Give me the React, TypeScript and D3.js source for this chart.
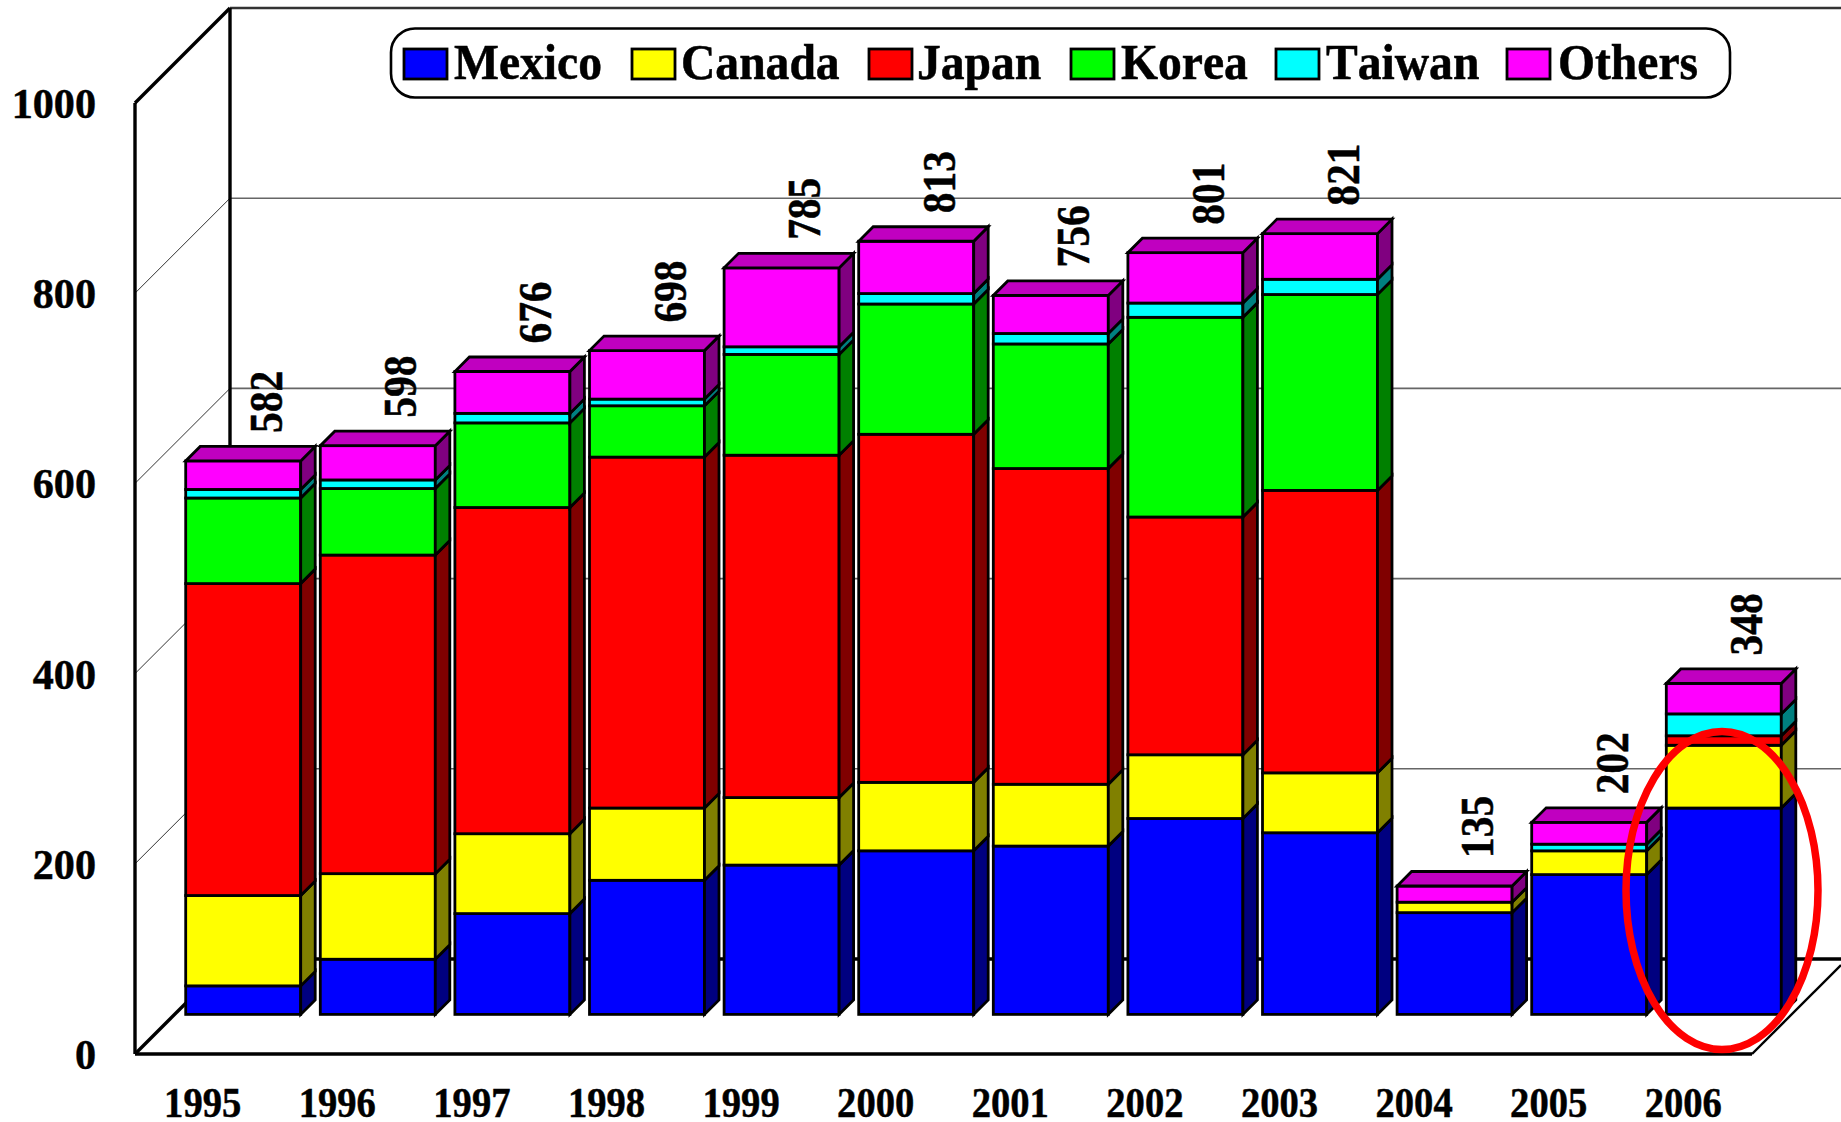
import React from "react";
import * as d3 from "d3";

const years = ["1995","1996","1997","1998","1999","2000","2001","2002","2003","2004","2005","2006"];
const mexico = [30,58,106,141,157,172,177,206,191,107,147,217];
const canada = [95,90,84,76,71,72,65,67,63,11,25,66];
const japan = [328,335,343,369,360,366,332,250,297,0,0,10];
const korea = [90,70,89,54,106,137,131,210,206,0,0,0];
const taiwan = [9,9,10,7,8,11,11,15,16,0,7,23];
const others = [30,36,44,51,83,55,40,53,48,17,23,32];
const totals = [582,598,676,698,785,813,756,801,821,135,202,348];
const yTicks = [0,200,400,600,800,1000];
const seriesNames = ["Mexico","Canada","Japan","Korea","Taiwan","Others"];
const seriesValues = [mexico,canada,japan,korea,taiwan,others];
const faceColors = ["#0000ff","#ffff00","#ff0000","#00ff00","#00ffff","#ff00ff"];
const sideColors = ["#000080","#808000","#800000","#008000","#008080","#800080"];
const topColor = "#c000c0";

const W = 1841, H = 1122;
const FONT = "'Liberation Serif', 'Times New Roman', serif";
const axisX = 135, floorY = 1054, topY = 103;
const wallDx = 95, wallDy = 95;
const barInset = 39.6;
const barDepth = 14.5;
const legendSwatchX = [404,632,869,1071,1276,1507];
const legendTextX = [454,681,917,1121,1326,1558];

const y = d3.scaleLinear().domain([0,1000]).range([floorY,topY]);
const band = d3.scaleBand<string>().domain(years).range([185.7-9.8, 185.7-9.8+134.6*12]).paddingInner(19.6/134.6).paddingOuter(19.6/134.6/2);

const stackGen = d3.stack<number>().keys(d3.range(6) as any).value((i: number, k: any) => seriesValues[k][i]);
const stacked = stackGen(d3.range(years.length));

const pts = (p: number[][]) => p.map(a => a.join(",")).join(" ");

export default function App() {
  const backX = axisX + wallDx;
  const rightFront = 1752;
  const heavy = { stroke: "#000", strokeWidth: 0.5 };
  return (
    <svg width={W} height={H} viewBox={`0 0 ${W} ${H}`} style={{position:"fixed",left:0,top:0,background:"#fff",fontKerning:"none"}} fontFamily={FONT} fontWeight="bold">
      {/* back wall top */}
      <line x1={backX} y1={y(1000)-wallDy} x2={W} y2={y(1000)-wallDy} stroke="#333" strokeWidth={2.6}/>
      {/* grid */}
      {yTicks.filter(t => t>0 && t<1000).map(t => (
        <g key={t}>
          <line x1={axisX} y1={y(t)} x2={backX} y2={y(t)-wallDy} stroke="#333" strokeWidth={1}/>
          <line x1={backX} y1={y(t)-wallDy} x2={W} y2={y(t)-wallDy} stroke="#666" strokeWidth={1.6}/>
        </g>
      ))}
      {/* frame */}
      <line x1={axisX} y1={y(0)} x2={axisX} y2={y(1000)} stroke="#000" strokeWidth={3.4}/>
      <line x1={backX} y1={y(0)-wallDy} x2={backX} y2={y(1000)-wallDy} stroke="#000" strokeWidth={3.4}/>
      <line x1={axisX} y1={y(1000)} x2={backX} y2={y(1000)-wallDy} stroke="#000" strokeWidth={3.4}/>
      <line x1={axisX} y1={y(0)} x2={backX} y2={y(0)-wallDy} stroke="#000" strokeWidth={3.4}/>
      <line x1={axisX} y1={y(0)} x2={rightFront} y2={y(0)} stroke="#000" strokeWidth={3.4}/>
      <line x1={backX} y1={y(0)-wallDy} x2={W} y2={y(0)-wallDy} stroke="#000" strokeWidth={3.4}/>
      <line x1={rightFront} y1={y(0)} x2={W} y2={y(0)-89} stroke="#000" strokeWidth={2.4}/>

      {/* bars */}
      {years.map((yr,i) => {
        const x0 = band(yr)!, x1 = x0 + band.bandwidth();
        const segs = stacked.map((s,k) => ({k, a:s[i][0], b:s[i][1]})).filter(d => d.b>d.a);
        const top = segs[segs.length-1];
        const yTop = y(top.b)-barInset;
        return (
          <g key={yr} stroke="#000" strokeWidth={2.8} strokeLinejoin="miter">
            {segs.map(d => {
              const ya = y(d.a)-barInset, yb = y(d.b)-barInset;
              return (
                <g key={d.k}>
                  <rect x={x0} y={yb} width={x1-x0} height={ya-yb} fill={faceColors[d.k]}/>
                  <polygon points={pts([[x1,ya],[x1,yb],[x1+barDepth,yb-barDepth],[x1+barDepth,ya-barDepth]])} fill={sideColors[d.k]}/>
                </g>
              );
            })}
            <polygon points={pts([[x0,yTop],[x1,yTop],[x1+barDepth,yTop-barDepth],[x0+barDepth,yTop-barDepth]])} fill={topColor}/>
          </g>
        );
      })}

      {/* total labels */}
      {years.map((yr,i) => {
        const lx = band(yr)! + 96, ly = y(totals[i]) - barInset - barDepth - 13.5;
        return <text key={yr} transform={`translate(${lx},${ly}) rotate(-90) scale(0.9,1)`} fontSize={46} fill="#000" {...heavy}>{totals[i]}</text>;
      })}

      {/* y labels */}
      {yTicks.map(t => <text key={t} transform={`translate(96,${y(t)+15}) scale(0.98,1)`} textAnchor="end" fontSize={43} fill="#000" {...heavy}>{t}</text>)}
      {/* x labels */}
      {years.map(yr => <text key={yr} transform={`translate(${band(yr)!+17},1117) scale(0.93,1)`} textAnchor="middle" fontSize={41.5} fill="#000" {...heavy}>{yr}</text>)}

      {/* legend */}
      <rect x={391} y={28.5} width={1339} height={69} rx={24} ry={24} fill="#fff" stroke="#000" strokeWidth={2.6}/>
      {seriesNames.map((n,i) => (
        <g key={n}>
          <rect x={legendSwatchX[i]} y={49} width={43} height={30} fill={faceColors[i]} stroke="#000" strokeWidth={2.8}/>
          <text transform={`translate(${legendTextX[i]},79) scale(0.952,1)`} fontSize={50} fill="#000" {...heavy}>{n}</text>
        </g>
      ))}

      {/* highlight */}
      <ellipse cx={1722} cy={890.5} rx={96} ry={159} fill="none" stroke="#ff0000" strokeWidth={7.5}/>
    </svg>
  );
}
